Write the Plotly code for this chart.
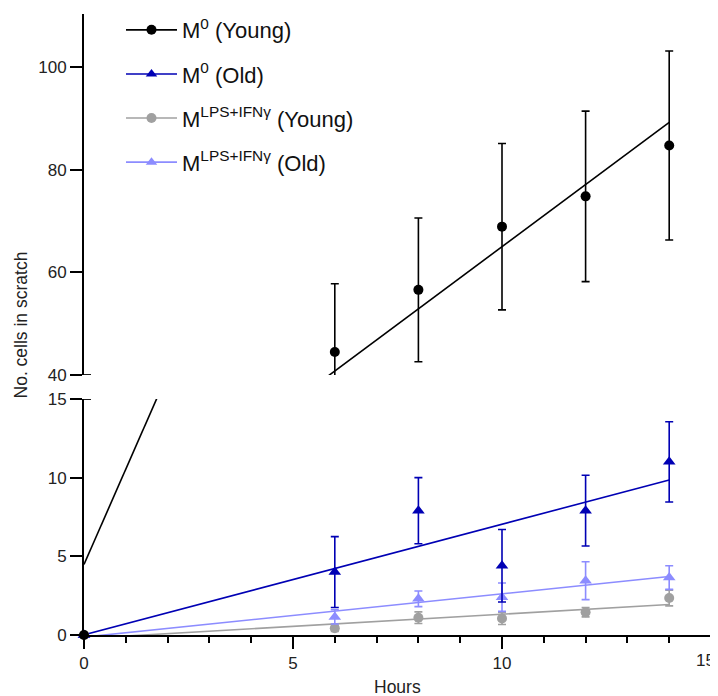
import numpy as np
import plotly.graph_objects as go

# ---- data ----
hours = [0, 6, 8, 10, 12, 14]
m0_young = [0, 44.5, 56.6, 68.9, 74.8, 84.7]
m0_young_err = [0, 13.3, 14.0, 16.2, 16.6, 18.4]
m0_old = [0, 4.0, 7.9, 4.4, 7.9, 11.0]
m0_old_err = [0, 2.25, 2.1, 2.3, 2.25, 2.55]
lps_young = [0, 0.43, 1.1, 1.05, 1.45, 2.35]
lps_young_err = [0, 0.2, 0.37, 0.38, 0.3, 0.5]
lps_old = [0, 1.15, 2.3, 2.4, 3.45, 3.65]
lps_old_err = [0, 0.45, 0.5, 0.9, 1.2, 0.75]

names = ["M<sup>0</sup> (Young)", "M<sup>0</sup> (Old)",
         "M<sup>LPS+IFNγ</sup> (Young)", "M<sup>LPS+IFNγ</sup> (Old)"]
colors = ["#000000", "#0000b4", "#a0a0a0", "#8c8cff"]
symbols = ["circle", "triangle-up", "circle", "triangle-up"]
series = [(m0_young, m0_young_err), (m0_old, m0_old_err),
          (lps_young, lps_young_err), (lps_old, lps_old_err)]

bottom_range = [0, 15]
top_range = [40, 110.3]
bottom_ticks = [0, 5, 10, 15]
top_ticks = [40, 60, 80, 100]
x_ticks = [0, 5, 10, 15]
x_labels = ["0", "5", "10", "15"]

FONT = "Liberation Sans, Arial, sans-serif"
fig = go.Figure()

# regression lines (both panels)
fit_x = np.array([min(hours), max(hours)], dtype=float)
for (vals, err), col in zip(series[::-1], colors[::-1]):
    k, b = np.polyfit(hours, vals, 1)
    fy = k * fit_x + b
    for ax in ["y", "y2"]:
        fig.add_trace(go.Scatter(x=fit_x, y=fy, mode="lines", xaxis="x" if ax == "y" else "x2",
                                 yaxis=ax, line=dict(color=col, width=1.6),
                                 showlegend=False, hoverinfo="skip"))

# data markers
order = [2, 3, 1, 0]
for i in order:
    vals, err = series[i]
    bv = [v if v <= bottom_range[1] else None for v in vals]
    be = [e if v <= bottom_range[1] else None for v, e in zip(vals, err)]
    msize = 10 if symbols[i] == "circle" else 11
    fig.add_trace(go.Scatter(
        x=hours, y=bv, mode="markers", xaxis="x", yaxis="y",
        marker=dict(color=colors[i], symbol=symbols[i], size=msize),
        error_y=dict(type="data", array=be, color=colors[i], thickness=1.6, width=4),
        cliponaxis=False, showlegend=False))
    fig.add_trace(go.Scatter(
        x=hours, y=vals, mode="markers", xaxis="x2", yaxis="y2",
        marker=dict(color=colors[i], symbol=symbols[i], size=msize),
        error_y=dict(type="data", array=err, color=colors[i], thickness=1.6, width=4),
        cliponaxis=True, showlegend=False))

# legend entries
for i in range(4):
    fig.add_trace(go.Scatter(
        x=[None], y=[None], mode="lines+markers", name=names[i], legendgroup=str(i),
        xaxis="x2", yaxis="y2",
        line=dict(color=colors[i], width=1.6),
        marker=dict(color=colors[i], symbol=symbols[i], size=10)))

tickfont = dict(family=FONT, size=17, color="#222")
axis_common = dict(showline=True, linecolor="black", linewidth=2, ticks="outside",
                   tickcolor="black", tickwidth=2, ticklen=12, showgrid=False, zeroline=False,
                   tickfont=tickfont, automargin=False, ticklabeloverflow="allow")

bot_top = 0.3802
top_bot = 0.4185
cap = 7 / 627

# last x label drawn as annotation so it stays inside the page
shown_labels = x_labels[:-1] + [""]

fig.update_layout(
    width=710, height=688,
    margin=dict(l=76, r=7, t=1, b=61),
    paper_bgcolor="white", plot_bgcolor="white",
    font=dict(family=FONT, size=17, color="#222"),
    xaxis=dict(range=[0, 15], domain=[0, 1], anchor="y", tickvals=x_ticks, ticktext=shown_labels,
               minor=dict(dtick=1, ticks="outside", ticklen=6, tickwidth=2, tickcolor="black"),
               **axis_common),
    xaxis2=dict(matches="x", anchor="y2", visible=False, domain=[0, 1]),
    yaxis=dict(range=bottom_range, domain=[0, bot_top], anchor="x", tickvals=bottom_ticks,
               **axis_common),
    yaxis2=dict(range=top_range, domain=[top_bot, 1], anchor="x2", tickvals=top_ticks,
                **axis_common),
    legend=dict(x=0.059, y=1.008, xanchor="left", yanchor="top", bgcolor="rgba(0,0,0,0)",
                font=dict(family=FONT, size=22, color="#111"), tracegroupgap=12.5,
                itemwidth=51),
    shapes=[
        dict(type="line", xref="paper", yref="y2", x0=0, x1=cap, y0=top_range[0], y1=top_range[0],
             line=dict(color="black", width=2)),
        dict(type="line", xref="paper", yref="y", x0=0, x1=cap, y0=bottom_range[1], y1=bottom_range[1],
             line=dict(color="black", width=2)),
    ],
    annotations=[
        dict(text="No. cells in scratch", textangle=-90, xref="paper", yref="paper",
             x=-0.1005, y=0.5, showarrow=False, font=dict(family=FONT, size=17.5, color="#222"),
             xanchor="center", yanchor="middle"),
        dict(text="Hours", xref="paper", yref="paper", x=0.5, y=-0.083, showarrow=False,
             font=dict(family=FONT, size=17.5, color="#222"), xanchor="center", yanchor="middle"),
        dict(text=x_labels[-1], xref="x", yref="paper", x=x_ticks[-1], y=-0.0415, xshift=6,
             showarrow=False, font=tickfont, xanchor="right", yanchor="middle"),
    ],
)

fig.write_html("out.html")
